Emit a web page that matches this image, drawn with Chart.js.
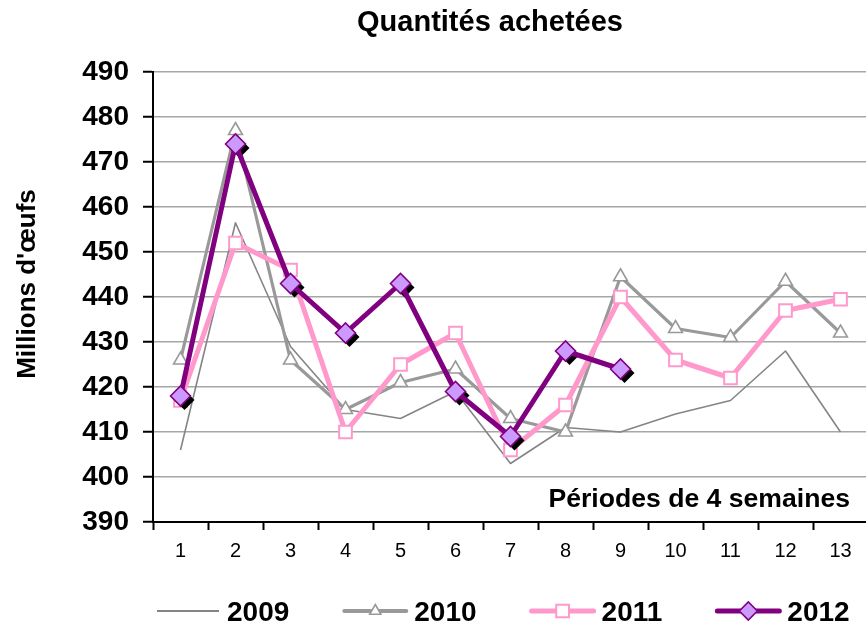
<!DOCTYPE html>
<html>
<head>
<meta charset="utf-8">
<style>
html,body{margin:0;padding:0;background:#fff;overflow:hidden;width:866px;height:624px;}
#wrap{width:868px;height:624px;}
canvas{display:block;}
</style>
<script src="https://cdn.jsdelivr.net/npm/chart.js@4"></script>
</head>
<body>
<div id="wrap"><canvas id="c" width="868" height="624"></canvas></div>
<script>
const categories = ['1','2','3','4','5','6','7','8','9','10','11','12','13'];
const s2009 = [406, 456.5, 429, 415, 413, 419, 403, 411, 410, 414, 417, 428, 410];
const s2010 = [426, 477, 426, 415, 421, 424, 413, 410, 444.5, 433, 431, 443.5, 432];
const s2011 = [417, 452, 446, 410, 425, 432, 406, 416, 440, 426, 422, 437, 439.5];
const s2012 = [418, 474, 443, 432, 443, 419, 409, 428, 424, null, null, null, null];
const seriesNames = ['2009','2010','2011','2012'];
const yTicks = [390,400,410,420,430,440,450,460,470,480,490];
const titleText = 'Quantités achetées';
const yTitleText = "Millions d'œufs";
const xNoteText = 'Périodes de 4 semaines';

const FONT = "'Liberation Sans', Arial, Helvetica, sans-serif";

const datasets = [
  { label: seriesNames[0], data: s2009, borderColor: '#858585', borderWidth: 1.6,
    pointRadius: 0, pointHoverRadius: 0, order: 3, legendMarker: null, legendWidth: 2.2 },
  { label: seriesNames[1], data: s2010, borderColor: '#999999', borderWidth: 3.2,
    pointStyle: 'triangle', pointRadius: 8, pointBackgroundColor: '#ffffff',
    pointBorderColor: '#999999', pointBorderWidth: 1.6, order: 2, legendMarker: 'triangle', legendWidth: 4 },
  { label: seriesNames[2], data: s2011, borderColor: '#FF99CC', borderWidth: 5,
    pointStyle: 'rect', pointRadius: 9, pointBackgroundColor: '#ffffff',
    pointBorderColor: '#FF99CC', pointBorderWidth: 2, order: 1, legendMarker: 'rect', legendWidth: 5 },
  { label: seriesNames[3], data: s2012, borderColor: '#800080', borderWidth: 5,
    pointStyle: 'rectRot', pointRadius: 10, pointBackgroundColor: '#CC99FF',
    pointBorderColor: '#800080', pointBorderWidth: 1.6, order: 0, legendMarker: 'rectRot', legendWidth: 5 }
];
datasets.forEach(d => { d.borderJoinStyle = 'round'; d.tension = 0; d.spanGaps = false; d.fill = false; d.clip = false; });

function pathMarker(ctx, style, x, y, r) {
  ctx.beginPath();
  if (style === 'triangle') {
    for (let i = 0; i < 3; i++) {
      const a = i * 2 * Math.PI / 3;
      const px = x + Math.sin(a) * r, py = y - Math.cos(a) * r;
      if (i === 0) ctx.moveTo(px, py); else ctx.lineTo(px, py);
    }
  } else if (style === 'rect') {
    const s = Math.SQRT1_2 * r;
    ctx.rect(x - s, y - s, 2 * s, 2 * s);
  } else if (style === 'rectRot') {
    ctx.moveTo(x - r, y); ctx.lineTo(x, y - r); ctx.lineTo(x + r, y); ctx.lineTo(x, y + r);
  }
  ctx.closePath();
}

const decor = {
  id: 'decor',
  beforeDatasetDraw(chart, args) {
    if (args.index !== 3) return;
    const ctx = chart.ctx;
    const ds = chart.data.datasets[3];
    ctx.save();
    ctx.fillStyle = '#000000';
    args.meta.data.forEach((el, i) => {
      if (ds.data[i] === null || el.skip) return;
      pathMarker(ctx, 'rectRot', el.x + 4, el.y + 4, ds.pointRadius);
      ctx.fill();
    });
    ctx.restore();
  },
  afterDraw(chart) {
    const ctx = chart.ctx;
    ctx.save();
    ctx.fillStyle = '#000';
    ctx.font = 'bold 29px ' + FONT;
    ctx.textAlign = 'center';
    ctx.textBaseline = 'alphabetic';
    ctx.fillText(titleText, 490, 31);
    ctx.font = 'bold 26.6px ' + FONT;
    ctx.textAlign = 'right';
    ctx.fillText(xNoteText, 850, 507);
    ctx.save();
    ctx.translate(35, 284);
    ctx.rotate(-Math.PI / 2);
    ctx.font = 'bold 26px ' + FONT;
    ctx.textAlign = 'center';
    ctx.fillText(yTitleText, 0, 0);
    ctx.restore();
    ctx.font = 'bold 28px ' + FONT;
    ctx.textAlign = 'left';
    const ly = 611;
    let x = 157;
    chart.data.datasets.forEach(ds => {
      const lineLen = 62;
      ctx.strokeStyle = ds.borderColor;
      ctx.lineWidth = ds.legendWidth;
      ctx.lineCap = ds.legendMarker ? 'round' : 'butt';
      ctx.beginPath();
      ctx.moveTo(x, ly); ctx.lineTo(x + lineLen, ly);
      ctx.stroke();
      if (ds.legendMarker) {
        const r = ds.legendMarker === 'rectRot' ? 9 : (ds.legendMarker === 'rect' ? 9 : 6.5);
        pathMarker(ctx, ds.legendMarker, x + lineLen / 2, ly, r);
        ctx.fillStyle = ds.pointBackgroundColor;
        ctx.fill();
        ctx.lineWidth = ds.pointBorderWidth;
        ctx.strokeStyle = ds.pointBorderColor;
        ctx.stroke();
      }
      ctx.fillStyle = '#000';
      const tx = x + lineLen + 8;
      ctx.fillText(ds.label, tx, ly + 10);
      x = tx + ctx.measureText(ds.label).width + 55;
    });
    ctx.restore();
  }
};

new Chart(document.getElementById('c'), {
  type: 'line',
  data: { labels: categories, datasets: datasets },
  options: {
    responsive: false,
    animation: false,
    devicePixelRatio: 1,
    events: [],
    layout: { autoPadding: false, padding: { top: 72, left: 0, right: 0, bottom: 52 } },
    plugins: { legend: { display: false }, title: { display: false }, tooltip: { enabled: false } },
    scales: {
      x: {
        type: 'category',
        offset: true,
        afterFit(s) { s.height = 50; s.paddingLeft = 0; s.paddingRight = 0; },
        grid: { offset: true, drawOnChartArea: false, drawTicks: true, tickLength: 8,
                tickColor: '#000', tickWidth: 2, color: '#000' },
        border: { display: true, color: '#000', width: 2 },
        ticks: { color: '#000', font: { family: FONT, size: 20 }, padding: 9, maxRotation: 0, autoSkip: false }
      },
      y: {
        min: yTicks[0], max: yTicks[yTicks.length - 1],
        afterFit(s) { s.width = 153; s.paddingTop = 0; s.paddingBottom = 0; },
        afterBuildTicks(s) { s.ticks = yTicks.map(v => ({ value: v })); },
        grid: { color: '#a6a6a6', lineWidth: 1.5, drawTicks: true, tickLength: 10,
                tickColor: '#000', tickWidth: 2 },
        border: { display: true, color: '#000', width: 2 },
        ticks: { color: '#000', font: { family: FONT, size: 28, weight: 'bold' }, padding: 14 }
      }
    }
  },
  plugins: [decor]
});
</script>
</body>
</html>
